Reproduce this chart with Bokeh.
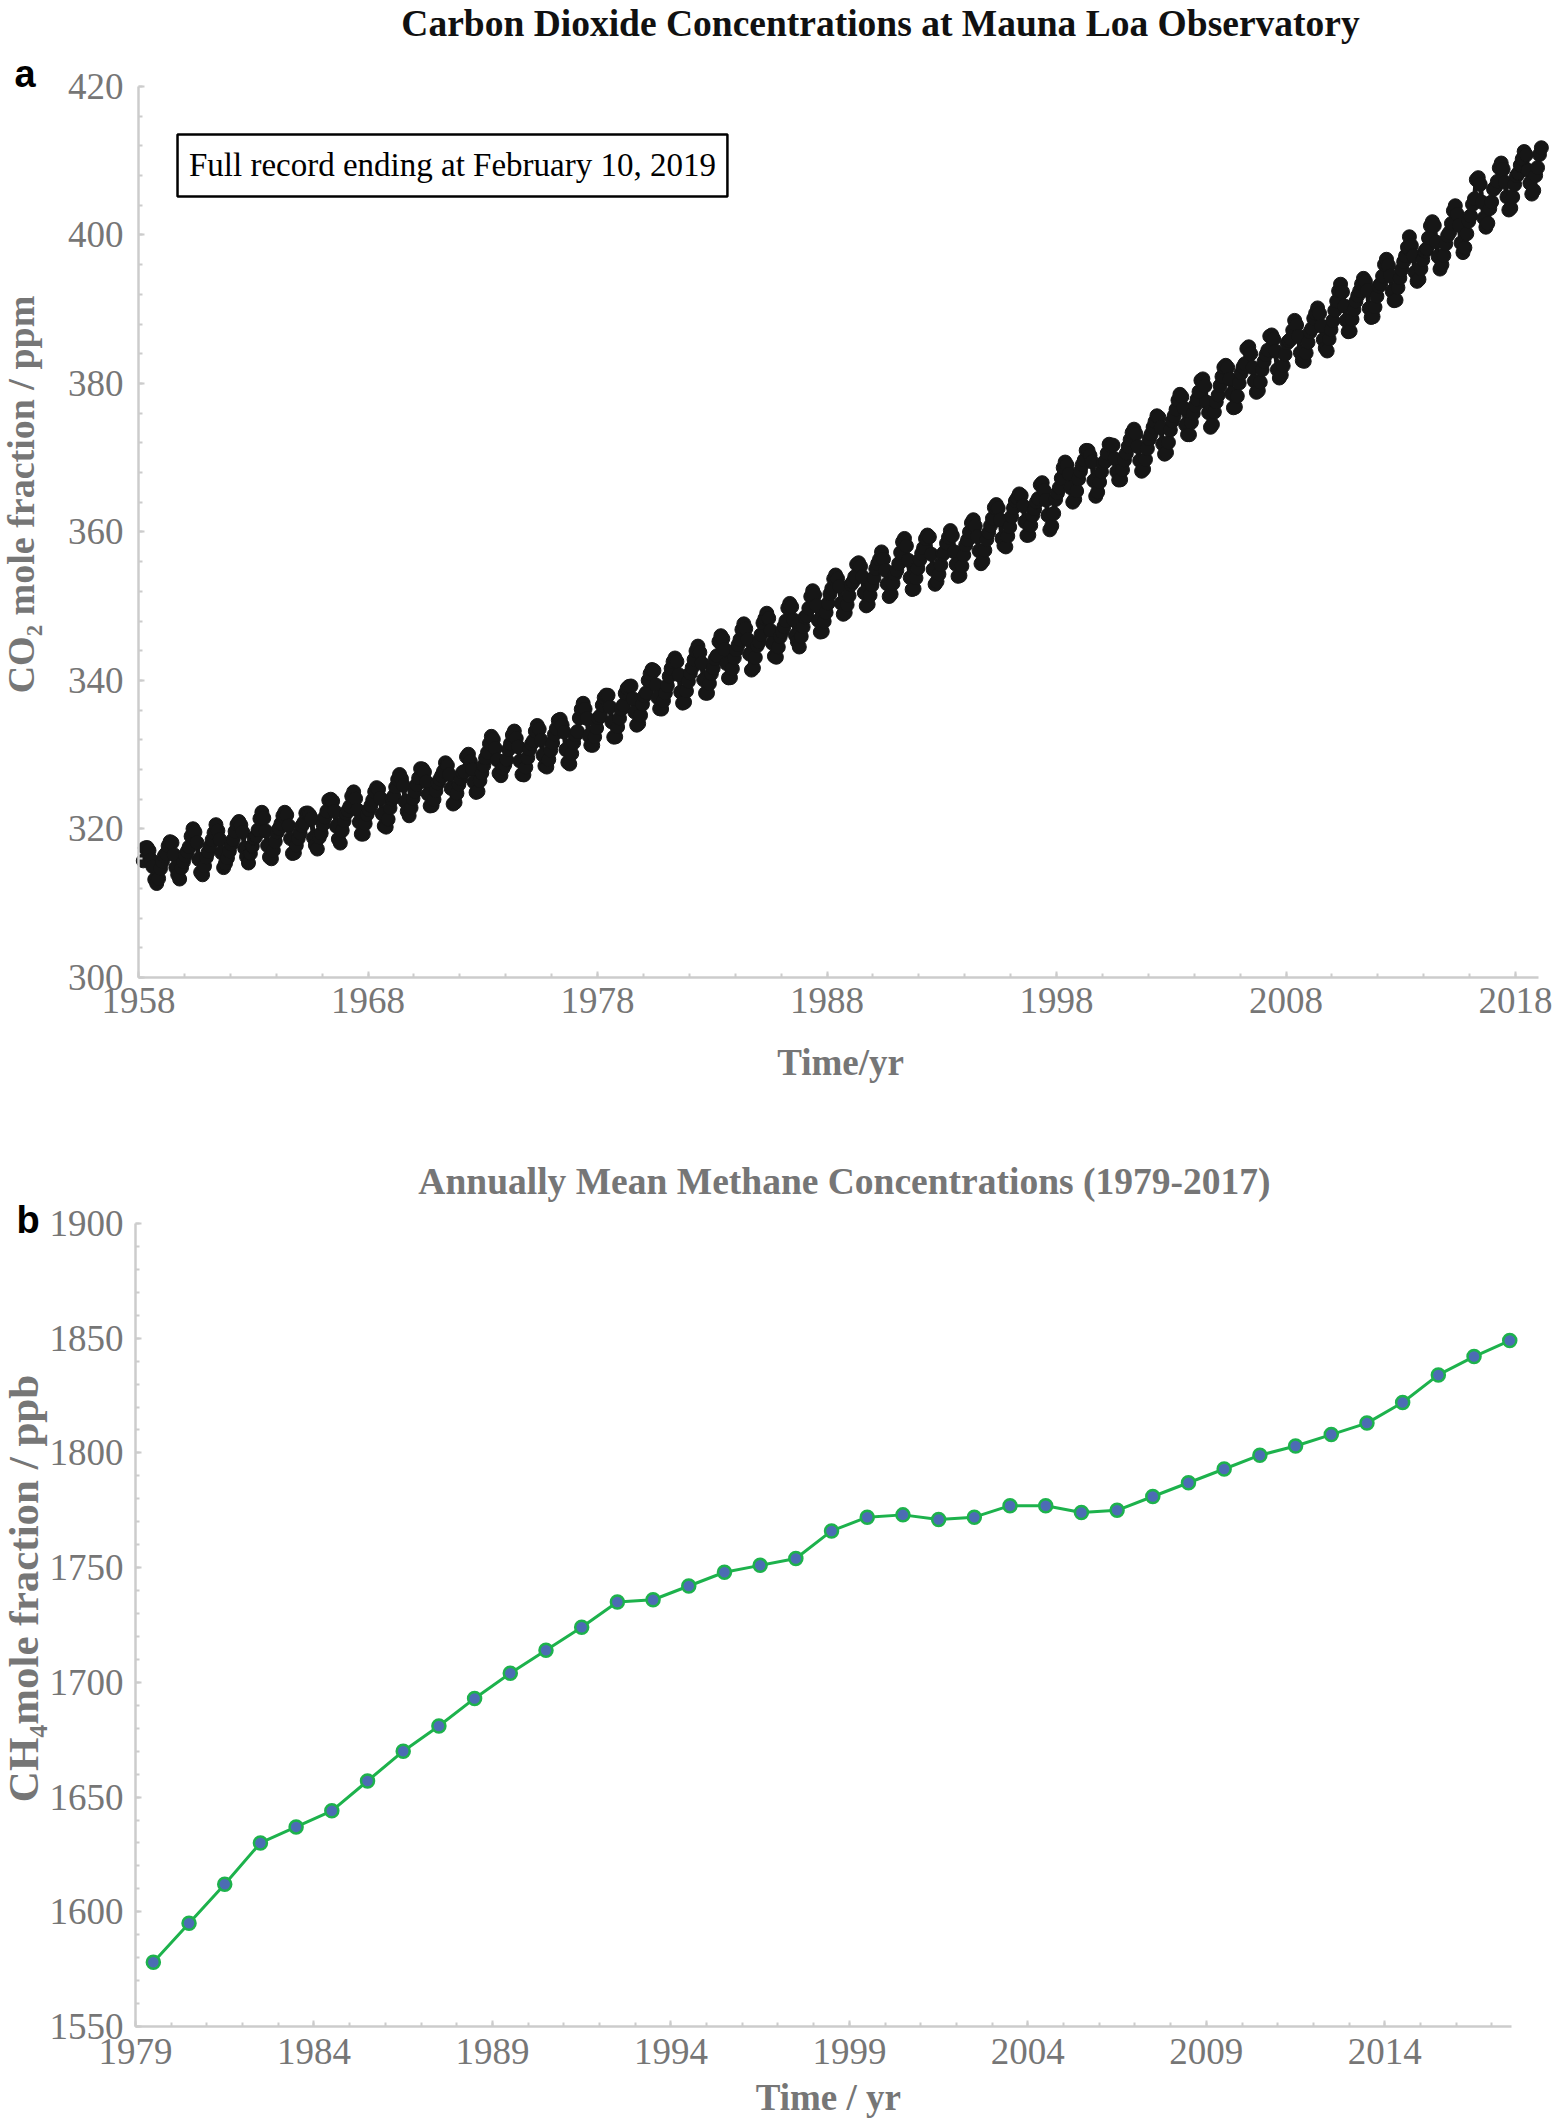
import numpy as np
from bokeh.plotting import figure
from bokeh.layouts import column
from bokeh.models import FixedTicker, Label, BoxAnnotation, Range1d
from bokeh.embed import file_html
from bokeh.resources import INLINE

# ---------------- data ----------------
# Mauna Loa monthly CO2 (ppm), starting March 1958, ending February 2019
co2_start_year = 1958
co2_start_month = 3
co2_ppm = [
    315.71, 317.45, 317.50, 317.10, 315.86, 314.93, 313.20, 312.66, 313.33, 314.67,
    315.62, 316.38, 316.71, 317.72, 318.29, 318.15, 316.54, 314.80, 313.84, 313.26, 314.80, 315.58,
    316.43, 316.97, 317.58, 319.02, 320.03, 319.59, 318.18, 315.91, 314.16, 313.83, 315.00, 316.19,
    316.93, 317.70, 318.54, 319.48, 320.58, 319.77, 318.57, 316.79, 314.80, 315.38, 316.10, 317.01,
    317.94, 318.56, 319.68, 320.63, 321.01, 320.55, 319.58, 317.40, 316.26, 315.42, 316.69, 317.69,
    318.74, 319.08, 319.86, 321.39, 322.25, 321.47, 319.74, 317.77, 316.21, 315.99, 317.12, 318.31,
    319.57, 320.07, 320.73, 321.77, 322.25, 321.89, 320.44, 318.70, 316.70, 316.79, 317.79, 318.71,
    319.44, 320.44, 320.89, 322.13, 322.16, 321.87, 321.39, 318.81, 317.81, 317.30, 318.87, 319.42,
    320.62, 321.59, 322.39, 323.87, 324.01, 323.75, 322.39, 320.37, 318.64, 318.10, 319.79, 321.08,
    322.07, 322.50, 323.04, 324.42, 325.00, 324.09, 322.55, 320.92, 319.31, 319.31, 320.72, 321.96,
    322.57, 323.15, 323.89, 325.02, 325.57, 325.36, 324.14, 322.03, 320.41, 320.25, 321.31, 322.84,
    324.00, 324.42, 325.64, 326.66, 327.34, 326.76, 325.88, 323.67, 322.38, 321.78, 322.85, 324.11,
    325.03, 325.99, 326.87, 328.13, 328.07, 327.66, 326.35, 324.69, 323.10, 323.16, 323.98, 325.13,
    326.17, 326.68, 327.18, 327.78, 328.92, 328.57, 327.34, 325.46, 323.36, 323.57, 324.80, 326.01,
    326.77, 327.63, 327.75, 329.72, 330.07, 329.09, 328.05, 326.32, 324.93, 325.06, 326.50, 327.55,
    328.54, 329.56, 330.30, 331.50, 332.48, 332.07, 330.87, 329.31, 327.51, 327.18, 328.16, 328.64,
    329.35, 330.71, 331.48, 332.65, 333.19, 332.20, 331.07, 329.15, 327.33, 327.28, 328.31, 329.58,
    330.73, 331.46, 331.90, 333.17, 333.94, 333.45, 331.97, 329.95, 328.50, 328.34, 329.37, 330.58,
    331.59, 332.75, 333.52, 334.64, 334.77, 334.00, 333.06, 330.68, 328.95, 328.75, 330.15, 331.62,
    332.66, 333.13, 334.95, 336.13, 336.93, 336.17, 334.88, 332.56, 331.29, 331.27, 332.41, 333.60,
    334.95, 335.25, 336.66, 337.69, 338.03, 338.01, 336.41, 334.41, 332.37, 332.41, 333.75, 334.90,
    336.14, 336.69, 338.27, 338.95, 339.21, 339.26, 337.54, 335.75, 333.98, 334.19, 335.31, 336.81,
    337.90, 338.34, 340.01, 340.93, 341.48, 341.33, 339.40, 337.70, 336.19, 336.15, 337.27, 338.32,
    339.29, 340.55, 341.61, 342.53, 343.03, 342.54, 340.78, 338.44, 336.95, 337.08, 338.58, 339.88,
    340.96, 341.73, 342.81, 343.97, 344.63, 343.79, 342.32, 340.09, 338.28, 338.29, 339.60, 340.90,
    341.68, 342.90, 343.33, 345.25, 346.03, 345.63, 344.19, 342.27, 340.35, 340.38, 341.59, 343.05,
    344.10, 344.79, 345.52, 346.84, 347.63, 346.98, 345.53, 343.55, 341.40, 341.67, 343.10, 344.70,
    345.21, 346.16, 347.74, 348.34, 349.06, 348.38, 346.72, 345.02, 343.27, 343.13, 344.49, 345.88,
    346.56, 347.28, 348.01, 349.77, 350.38, 349.93, 348.16, 346.08, 345.22, 344.51, 345.93, 347.22,
    348.52, 348.73, 349.73, 351.31, 352.09, 351.53, 350.11, 348.08, 346.52, 346.59, 347.96, 349.16,
    350.39, 351.64, 352.40, 353.69, 354.21, 353.72, 352.69, 350.40, 348.92, 349.13, 350.20, 351.41,
    352.91, 353.27, 353.96, 355.64, 355.86, 355.37, 353.99, 351.81, 350.05, 350.25, 351.49, 352.85,
    353.80, 355.04, 355.73, 356.32, 357.32, 356.34, 354.84, 353.01, 351.31, 351.62, 353.07, 354.33,
    354.84, 355.73, 357.23, 358.66, 359.13, 358.13, 356.19, 353.85, 352.25, 352.35, 353.81, 355.12,
    356.25, 357.11, 357.86, 359.09, 359.59, 359.33, 357.01, 354.94, 352.96, 353.32, 354.32, 355.57,
    357.00, 357.31, 358.47, 359.27, 360.19, 359.52, 357.33, 355.64, 354.03, 354.12, 355.41, 356.91,
    358.24, 358.92, 359.99, 361.23, 361.65, 360.81, 359.38, 357.46, 355.73, 356.08, 357.53, 358.98,
    359.92, 360.86, 361.83, 363.30, 363.69, 363.19, 361.64, 359.12, 358.17, 357.99, 359.45, 360.68,
    362.07, 363.24, 364.17, 364.57, 365.13, 364.92, 363.55, 361.38, 359.54, 359.58, 360.89, 362.24,
    363.09, 364.03, 364.51, 366.35, 366.64, 365.59, 364.31, 362.25, 360.29, 360.82, 362.49, 364.38,
    365.26, 365.98, 367.24, 368.66, 369.42, 368.99, 367.82, 365.95, 364.02, 364.40, 365.52, 367.13,
    368.18, 369.07, 369.68, 370.99, 370.96, 370.30, 369.45, 366.90, 364.81, 365.37, 366.72, 368.10,
    369.29, 369.54, 370.60, 371.82, 371.58, 371.70, 369.86, 368.13, 367.00, 367.03, 368.37, 369.67,
    370.59, 371.51, 372.43, 373.37, 373.85, 373.21, 371.51, 369.61, 368.18, 368.45, 369.76, 371.24,
    372.53, 373.20, 374.12, 374.87, 375.65, 375.43, 374.06, 371.87, 370.48, 370.69, 372.07, 373.73,
    374.92, 375.63, 376.51, 377.75, 378.54, 378.20, 376.68, 374.43, 373.11, 373.10, 374.77, 375.97,
    377.03, 377.87, 378.88, 380.42, 380.62, 379.66, 377.48, 376.07, 374.10, 374.47, 376.15, 377.51,
    378.43, 379.70, 380.92, 382.18, 382.45, 382.14, 380.60, 378.64, 376.73, 376.84, 378.29, 380.06,
    381.40, 382.20, 382.66, 384.69, 384.94, 384.01, 382.14, 380.31, 378.81, 379.03, 380.17, 381.85,
    382.94, 383.86, 384.49, 386.37, 386.54, 385.98, 384.35, 381.85, 380.74, 381.15, 382.38, 383.94,
    385.44, 385.73, 385.97, 387.16, 388.50, 387.88, 386.38, 384.15, 383.07, 382.98, 384.11, 385.54,
    386.92, 387.41, 388.77, 389.46, 390.18, 389.43, 387.74, 385.91, 384.77, 384.38, 385.99, 387.26,
    388.45, 389.82, 391.08, 392.46, 393.37, 392.33, 390.45, 388.49, 386.97, 387.04, 388.65, 389.95,
    391.06, 391.84, 392.46, 393.40, 394.16, 393.74, 392.54, 390.12, 388.89, 388.99, 390.29, 391.75,
    393.09, 393.42, 394.46, 396.02, 396.73, 395.92, 394.52, 392.41, 391.15, 391.23, 392.91, 394.21,
    395.35, 396.41, 397.18, 398.35, 399.76, 398.59, 397.21, 394.99, 393.76, 394.02, 395.45, 396.67,
    397.80, 398.13, 399.60, 401.23, 401.79, 401.27, 399.05, 397.10, 395.41, 395.99, 397.24, 398.80,
    399.94, 400.34, 401.56, 403.26, 403.94, 402.80, 401.31, 398.93, 397.63, 398.29, 400.16, 401.85,
    402.56, 404.12, 404.87, 407.45, 407.72, 406.83, 404.41, 402.27, 401.05, 401.59, 403.55, 404.45,
    406.17, 406.46, 407.22, 409.04, 409.69, 408.88, 407.12, 405.13, 403.37, 403.63, 405.12, 406.81,
    407.96, 408.32, 409.41, 410.24, 411.24, 410.79, 408.71, 406.99, 405.51, 406.00, 408.02, 409.07,
    410.83, 411.75,
]

# Annual mean methane (ppb), 1979-2017
ch4_years = list(range(1979, 2018))
ch4_ppb = [1578, 1595, 1612, 1630, 1637, 1644, 1657, 1670, 1681, 1693,
           1704, 1714, 1724, 1735, 1736, 1742, 1748, 1751, 1754, 1766,
           1772, 1773, 1771, 1772, 1777, 1777, 1774, 1775, 1781, 1787,
           1793, 1799, 1803, 1808, 1813, 1822, 1834, 1842, 1849]

# ticks
a_xticks = [1958, 1968, 1978, 1988, 1998, 2008, 2018]
a_yticks = [300, 320, 340, 360, 380, 400, 420]
b_xticks = [1979, 1984, 1989, 1994, 1999, 2004, 2009, 2014]
b_yticks = [1550, 1600, 1650, 1700, 1750, 1800, 1850, 1900]

co2_t = [co2_start_year + (co2_start_month - 1 + i + 0.5) / 12.0 for i in range(len(co2_ppm))]
ch4_t = [y + 0.5 for y in ch4_years]

SERIF = "Liberation Serif"
SANS = "Liberation Sans"
GRAY = "#767676"
AXIS = "#cccccc"


def style(p, xb, yb, standoff_x, standoff_y):
    p.title.visible = False
    p.outline_line_color = None
    p.xgrid.visible = False
    p.ygrid.visible = False
    p.background_fill_color = "white"
    p.border_fill_color = "white"
    for ax in (p.xaxis[0], p.yaxis[0]):
        ax.axis_line_color = AXIS
        ax.axis_line_width = 2.5
        ax.major_tick_line_color = AXIS
        ax.minor_tick_line_color = AXIS
        ax.major_tick_line_width = 2
        ax.minor_tick_line_width = 2
        ax.major_tick_in = 6
        ax.major_tick_out = 0
        ax.minor_tick_in = 4
        ax.minor_tick_out = 0
        ax.major_label_text_font = SERIF
        ax.major_label_text_font_size = "37px"
        ax.major_label_text_color = GRAY
    p.xaxis[0].bounds = xb
    p.yaxis[0].bounds = yb
    p.xaxis[0].fixed_location = yb[0]
    p.yaxis[0].fixed_location = xb[0]
    p.xaxis[0].major_label_standoff = standoff_x
    p.yaxis[0].major_label_standoff = standoff_y


def text(p, x, y, s, size, color, bold=False, font=SERIF, align="center",
         baseline="alphabetic", angle=0.0):
    p.add_layout(Label(x=x, y=y, text=s, text_font=font, text_font_size=size,
                       text_color=color, text_font_style="bold" if bold else "normal",
                       text_align=align, text_baseline=baseline, angle=angle))


# ---------------- panel a ----------------
# the frame spans the whole canvas; the axes are drawn at fixed locations
pa = figure(width=1554, height=1108, output_backend="svg", toolbar_location=None,
            x_range=Range1d(1951.987, 2019.697), y_range=Range1d(282.357, 431.582),
            min_border_left=0, min_border_right=0, min_border_top=0, min_border_bottom=0)
style(pa, (1958, 2019), (300, 420), 10, 15)
pa.xaxis[0].ticker = FixedTicker(ticks=a_xticks, minor_ticks=list(range(1958, 2020, 2)))
pa.yaxis[0].ticker = FixedTicker(ticks=a_yticks, minor_ticks=list(range(300, 421, 4)))

pa.line(co2_t, co2_ppm, line_color="#161616", line_width=5)
pa.scatter(co2_t, co2_ppm, size=14, fill_color="#161616", line_color="#161616")

pa.add_layout(BoxAnnotation(left=1959.70, right=1983.66, bottom=405.19, top=413.54,
                            fill_alpha=0, line_color="black", line_alpha=1.0, line_width=2.5))
text(pa, 1971.68, 409.4, "Full record ending at February 10, 2019", "33px", "black",
     baseline="middle")
text(pa, 1990.33, 428.485, "Carbon Dioxide Concentrations at Mauna Loa Observatory", "37.5px",
     "#111111", bold=True)
text(pa, 1952.60, 421.616, "a", "38px", "black", bold=True, font=SANS, align="left")
text(pa, 1952.88, 365.05, "CO\u2082 mole fraction / ppm", "38px", GRAY, bold=True,
     angle=np.pi / 2)
text(pa, 1988.59, 288.552, "Time/yr", "37px", GRAY, bold=True)

# ---------------- panel b ----------------
pb = figure(width=1554, height=1013, output_backend="svg", toolbar_location=None,
            x_range=Range1d(1975.218, 2018.754), y_range=Range1d(1508.593, 1950.124),
            min_border_left=0, min_border_right=0, min_border_top=0, min_border_bottom=0)
style(pb, (1979, 2017.55), (1550, 1900), 12, 12)
pb.xaxis[0].ticker = FixedTicker(ticks=b_xticks, minor_ticks=list(range(1979, 2018)))
pb.yaxis[0].ticker = FixedTicker(ticks=b_yticks, minor_ticks=list(range(1550, 1901, 10)))

pb.line(ch4_t, ch4_ppb, line_color="#1db24c", line_width=3)
pb.scatter(ch4_t, ch4_ppb, size=13, fill_color="#4c6cb4", line_color="#1db24c", line_width=2.5)

text(pb, 1998.86, 1918.306, "Annually Mean Methane Concentrations (1979-2017)", "37.5px",
     GRAY, bold=True)
text(pb, 1975.666, 1901.308, "b", "38px", "black", bold=True, font=SANS, align="left")
text(pb, 1975.876, 1740.91, "CH\u2084mole fraction / ppb", "43px", GRAY, bold=True,
     angle=np.pi / 2)
text(pb, 1998.41, 1519.054, "Time / yr", "37px", GRAY, bold=True)

layout = column(pa, pb)
open("out.html", "w").write(file_html(layout, INLINE))
